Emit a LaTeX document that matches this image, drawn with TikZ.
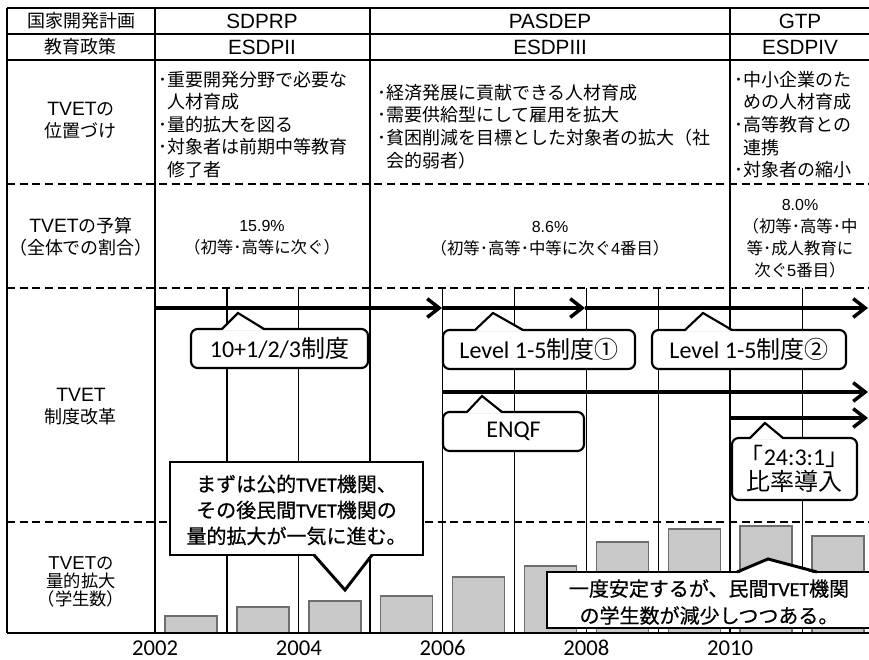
\documentclass[tikz,border=0pt]{standalone}
\usepackage{fontspec}
\setmainfont{Noto Sans CJK JP}
\newfontfamily\jpbold[FakeBold=0.6]{Noto Sans CJK JP}
\newfontfamily\arfont{Liberation Sans}
\newfontfamily\calfont{Carlito}
\newfontfamily\calbold[FakeBold=0.6]{Carlito}
\newcommand\tvet{{\arfont\fontsize{14.5pt}{14.5pt}\selectfont TVET}}
\usetikzlibrary{arrows.meta}
\definecolor{barfill}{RGB}{200,200,200}
\definecolor{bardraw}{RGB}{110,110,110}
\begin{document}
\begin{tikzpicture}[x=0.75pt,y=-0.75pt,
  tline/.style={line width=1pt},
  dline/.style={line width=1pt,dash pattern=on 6pt off 3.5pt},
  gline/.style={line width=0.9pt},
  hdr/.style={font=\fontsize{13.5pt}{16.5pt}\selectfont, inner sep=0pt, align=center},
  lat/.style={font=\arfont\fontsize{15.5pt}{17pt}\selectfont, inner sep=0pt, align=center},
  lbl6/.style={font=\fontsize{13pt}{13.6pt}\selectfont, inner sep=0pt, align=center},
  body/.style={font=\fontsize{13.5pt}{16.9pt}\selectfont, inner sep=0pt, align=left, anchor=north west},
  bud/.style={font=\fontsize{12.3pt}{16.5pt}\selectfont, inner sep=0pt, align=center},
  flow/.style={line width=2.6pt, -{Straight Barb[length=9pt,width=14pt]}},
  bar/.style={fill=barfill, draw=bardraw, line width=1.1pt},
  tag/.style={draw, line width=1.6pt, rounded corners=5pt, fill=white, font=\fontsize{18pt}{19pt}\selectfont, align=center, inner sep=0pt},
  ptr/.style={line width=1.6pt, line join=miter},
  note/.style={draw, line width=2.2pt, fill=white, inner sep=0pt},
  notetxt/.style={font=\jpbold\fontsize{15pt}{19.5pt}\selectfont, align=center, inner sep=0pt},
  year/.style={font=\calfont\fontsize{17pt}{20pt}\selectfont, inner sep=0pt},
]
\useasboundingbox (0,0) rectangle (869,660);
\clip (0,0) rectangle (869,660);
\fill[white] (0,0) rectangle (869,660);

% bars
\foreach \i/\t in {0/616,1/607,2/601,3/596,4/577,5/566,6/542,7/529,8/526,9/536}
  \draw[bar] ({155+71.9*\i+10},633) rectangle ({155+71.9*\i+62},\t);

% table lines
\draw[tline] (7,8) -- (869,8);
\draw[tline] (7,34) -- (869,34);
\draw[tline] (7,60) -- (869,60);
\foreach \y in {184,288,522} \draw[dline] (7,\y) -- (869,\y);
\foreach \x in {226.9,298.8,442.6,514.5,586.4,658.3,802.1} \draw[gline] (\x,288) -- (\x,633);
\foreach \x in {7,155,370,730} \draw[tline] (\x,8) -- (\x,633);
\draw[line width=1.3pt] (7,633) -- (869,633);

% arrows
\coordinate (a0) at (155,308);
\coordinate (a1) at (442,308);
\coordinate (a2) at (585,308);
\coordinate (a3) at (868,308);
\coordinate (e0) at (442,392);
\coordinate (e1) at (868,392);
\coordinate (r0) at (730,418);
\coordinate (r1) at (868,418);
\draw[flow] (a0) -- (a1);
\draw[flow] (a1) -- (a2);
\draw[flow] (a2) -- (a3);
\draw[flow] (e0) -- (e1);
\draw[flow] (r0) -- (r1);

% small callouts
\node[tag, minimum width=132.75pt, minimum height=29.25pt] (c1) at (279.5,348.5) {{\calfont 10+1/2/3}制度};
\fill[white] (222,330.6) -- (238,313) -- (264,330.6) -- cycle;
\draw[ptr] (222,329) -- (238,313) -- (264,329);

\node[tag, minimum width=144pt, minimum height=29.25pt] (c2) at (539,349.5) {{\calfont Level 1-5}制度①};
\fill[white] (475,331.6) -- (493,313) -- (523,331.6) -- cycle;
\draw[ptr] (475,330) -- (493,313) -- (523,330);

\node[tag, minimum width=145.5pt, minimum height=29.25pt] (c3) at (749,349.5) {{\calfont Level 1-5}制度②};
\fill[white] (685,331.6) -- (703,313) -- (732,331.6) -- cycle;
\draw[ptr] (685,330) -- (703,313) -- (732,330);

\node[tag, minimum width=105.75pt, minimum height=29.25pt, font=\calfont\fontsize{18pt}{19pt}\selectfont] (c4) at (513.5,431.5) {ENQF};
\fill[white] (467,413.6) -- (482,396) -- (502,413.6) -- cycle;
\draw[ptr] (467,412) -- (482,396) -- (502,412);

\node[tag, minimum width=93.75pt, minimum height=46.5pt, font=\fontsize{18pt}{19pt}\selectfont] (c5) at (794.5,469) {「{\calfont 24:3:1}」\\比率導入};
\fill[white] (750,439.6) -- (765,423) -- (783,439.6) -- cycle;
\draw[ptr] (750,438) -- (765,423) -- (783,438);

% big notes
\node[note, minimum width=189.75pt, minimum height=69.75pt] (n1) at (296.5,508.5) {};
\fill[white] (314,553) -- (345,590) -- (372,553) -- cycle;
\draw[line width=2.2pt, line join=miter] (314,555) -- (345,590) -- (372,555);
\node[notetxt] (n1t) at (296.5,510) {まずは公的{\calbold TVET}機関、\\その後民間{\calbold TVET}機関の\\量的拡大が一気に進む。};

\node[note, minimum width=264.75pt, minimum height=42pt] (n2) at (723.5,600) {};
\fill[white] (737,574) -- (768,559) -- (817,574) -- cycle;
\draw[line width=2.2pt, line join=miter] (737,572) -- (768,559) -- (817,572);
\node[notetxt, font=\jpbold\fontsize{15pt}{20.25pt}\selectfont] (n2t) at (709,602) {一度安定するが、民間{\calbold TVET}機関\\の学生数が減少しつつある。};

% header texts
\node[hdr] (h1) at (81,21) {国家開発計画};
\node[lat] (h2) at (262,21) {SDPRP};
\node[lat] (h3) at (550,21) {PASDEP};
\node[lat] (h4) at (800,21) {GTP};
\node[hdr] (p1) at (81,47) {教育政策};
\node[lat] (p2) at (262,47) {ESDPII};
\node[lat] (p3) at (550,47) {ESDPIII};
\node[lat] (p4) at (800,47) {ESDPIV};

% row 3
\node[hdr] (l3) at (81,121) {\tvet の\\位置づけ};
\node[body] (t3a) at (158,71) {･重要開発分野で必要な\\\hspace*{0.5em}人材育成\\･量的拡大を図る\\･対象者は前期中等教育\\\hspace*{0.5em}修了者};
\node[body] (t3b) at (377,84) {･経済発展に貢献できる人材育成\\･需要供給型にして雇用を拡大\\･貧困削減を目標とした対象者の拡大（社\\\hspace*{0.5em}会的弱者）};
\node[body] (t3c) at (734,71) {･中小企業のた\\\hspace*{0.5em}めの人材育成\\･高等教育との\\\hspace*{0.5em}連携\\･対象者の縮小};

% row 4
\node[hdr] (l4) at (81,237) {\tvet の予算\\（全体での割合）};
\node[bud] (b1) at (262,238) {{\arfont\fontsize{12pt}{12pt}\selectfont 15.9\%}\\（初等･高等に次ぐ）};
\node[bud] (b2) at (550,239) {{\arfont\fontsize{12pt}{12pt}\selectfont 8.6\%}\\（初等･高等･中等に次ぐ{\arfont 4}番目）};
\node[bud] (b3) at (800,239) {{\arfont\fontsize{12pt}{12pt}\selectfont 8.0\%}\\（初等･高等･中\\等･成人教育に\\次ぐ{\arfont 5}番目）};

% row 5, 6 labels
\node[hdr] (l5) at (81,407) {\tvet\\制度改革};
\node[lbl6] (l6) at (81,582) {{\arfont\fontsize{14pt}{13.6pt}\selectfont TVET}の\\量的拡大\\（学生数）};

% years
\node[year] (y02) at (155,648) {2002};
\node[year] (y04) at (298.8,648) {2004};
\node[year] (y06) at (442.6,648) {2006};
\node[year] (y08) at (586.4,648) {2008};
\node[year] (y10) at (730.2,648) {2010};
\end{tikzpicture}
\end{document}
